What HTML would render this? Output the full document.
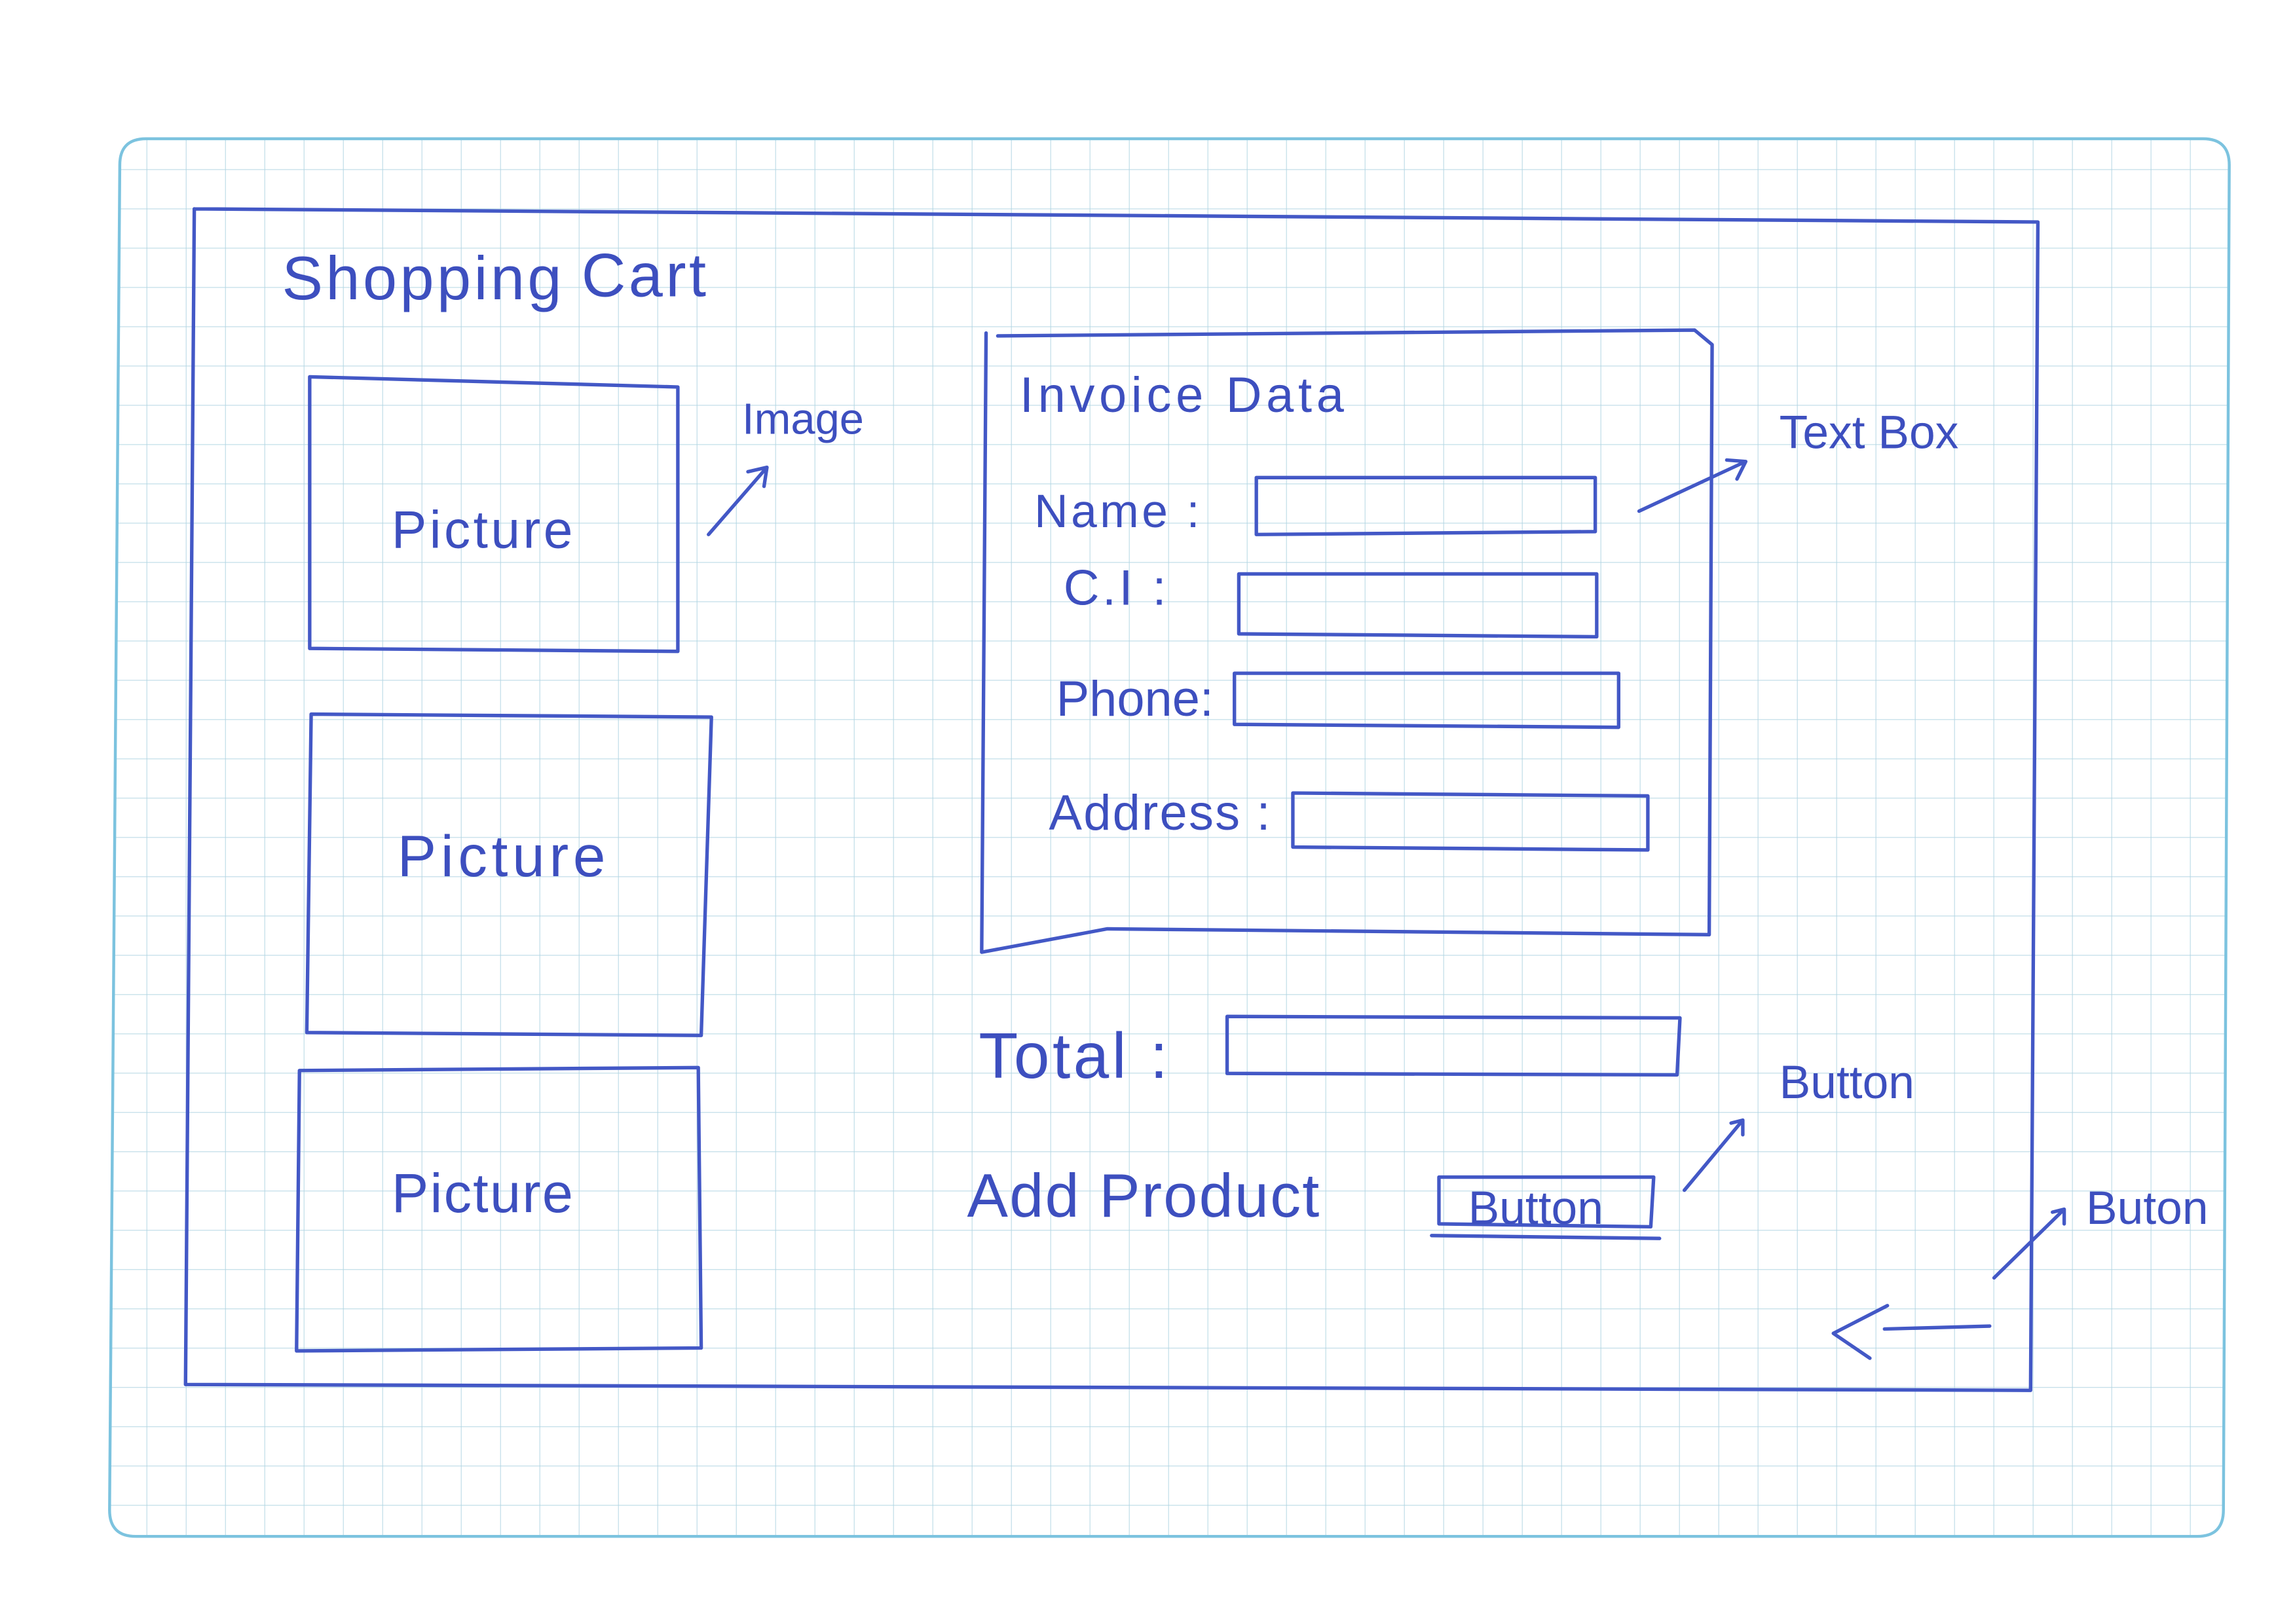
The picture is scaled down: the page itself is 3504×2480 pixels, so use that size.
<!DOCTYPE html>
<html><head><meta charset="utf-8"><style>
html,body{margin:0;padding:0;background:#fff;}
svg{display:block;}
text{font-family:"Liberation Sans","DejaVu Sans",sans-serif;fill:#3d4fbf;}
</style></head><body>
<svg width="3504" height="2480" viewBox="0 0 1571 1112" preserveAspectRatio="none" xmlns="http://www.w3.org/2000/svg">
<defs>
<pattern id="g" x="19.6" y="8.3" width="26.9" height="26.9" patternUnits="userSpaceOnUse">
<path d="M0 0H26.9M0 0V26.9" stroke="#b3d6e3" stroke-width="0.9" fill="none"/>
</pattern>
<clipPath id="c"><path d="M100 95 H1508 Q1526 95 1526 113 L1522 1034 Q1522 1052 1504 1052 H93 Q75 1052 75 1034 L82 113 Q82 95 100 95 Z"/></clipPath>
</defs>
<rect x="0" y="0" width="1571" height="1112" fill="#fff"/>
<rect x="60" y="80" width="1480" height="990" fill="url(#g)" clip-path="url(#c)"/>
<path d="M100 95 H1508 Q1526 95 1526 113 L1522 1034 Q1522 1052 1504 1052 H93 Q75 1052 75 1034 L82 113 Q82 95 100 95 Z" fill="none" stroke="#7cc3df" stroke-width="2"/>
<g fill="none" stroke="#4358c6" stroke-width="2.4" stroke-linecap="round" stroke-linejoin="round">
<path d="M133 143 L1395 152 L1390 952 L127 948 L133 143"/>
<path d="M212 258 L464 265 L464 446 L212 444 Z"/>
<path d="M213 489 L487 491 L480 709 L210 707 Z"/>
<path d="M205 733 L478 731 L480 923 L203 925 Z"/>
<path d="M485 366 L525 320 M512 323 L525 320 L523 333"/>
<path d="M683 230 L1160 226 L1172 236 L1170 640 L758 636 L672 652 L675 228"/>
<path d="M860 327 L1092 327 L1092 364 L860 366 Z"/>
<path d="M848 393 L1093 393 L1093 436 L848 434 Z"/>
<path d="M845 461 L1108 461 L1108 498 L845 496 Z"/>
<path d="M885 543 L1128 545 L1128 582 L885 580 Z"/>
<path d="M1122 350 L1195 316 M1182 315 L1195 316 L1189 328"/>
<path d="M840 696 L1150 697 L1148 736 L840 735 Z"/>
<path d="M985 806 L1132 806 L1130 840 L985 838 Z M980 846 L1136 848"/>
<path d="M1153 815 L1193 767 M1185 769 L1193 767 L1193 777"/>
<path d="M1365 875 L1413 828 M1405 830 L1413 828 L1413 838"/>
<path d="M1290 910 L1362 908 M1292 894 L1255 913 L1280 930"/>
</g>
<text x="193" y="205" font-size="42" letter-spacing="2">Shopping</text>
<text x="398" y="203" font-size="42" letter-spacing="2">Cart</text>
<text x="268" y="375" font-size="36" letter-spacing="2">Picture</text>
<text x="272" y="600" font-size="40" letter-spacing="3">Picture</text>
<text x="268" y="830" font-size="38" letter-spacing="1">Picture</text>
<text x="508" y="297" font-size="30">Image</text>
<text x="698" y="282" font-size="34" letter-spacing="3">Invoice Data</text>
<text x="708" y="361" font-size="32" letter-spacing="2">Name :</text>
<text x="728" y="414" font-size="34" letter-spacing="2">C.I  :</text>
<text x="723" y="490" font-size="34">Phone:</text>
<text x="718" y="568" font-size="34" letter-spacing="1">Address :</text>
<text x="1218" y="307" font-size="32">Text Box</text>
<text x="670" y="738" font-size="44" letter-spacing="2">Total :</text>
<text x="662" y="833" font-size="42" letter-spacing="1">Add Product</text>
<text x="1005" y="838" font-size="32">Button</text>
<text x="1218" y="752" font-size="32">Button</text>
<text x="1428" y="838" font-size="32">Buton</text>
</svg>
</body></html>
